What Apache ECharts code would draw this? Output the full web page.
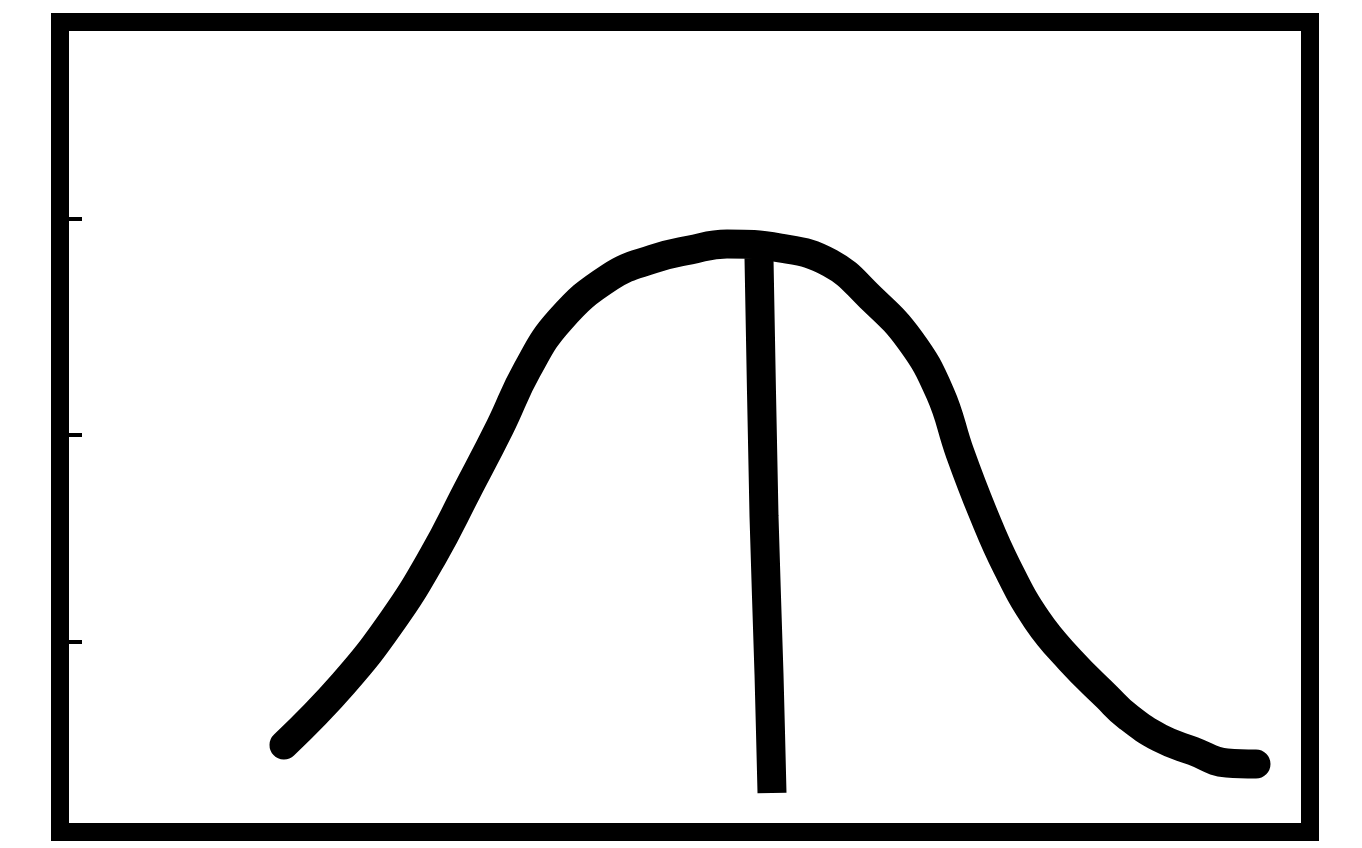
<!DOCTYPE html>
<html>
<head>
<meta charset="utf-8">
<script src="https://cdn.jsdelivr.net/npm/echarts@6/dist/echarts.min.js"></script>
<style>
    html, body {margin: 0; padding: 0; background: #fff;}
    #charts {width: 1362px; height: 848px;}
</style>
</head>
<body>
<div id="charts"></div>
<script>
// bell curve (x, y in box units)
const curveX = [22.4, 28.3, 33.3, 37.3, 40.7, 44.0, 46.7, 50.0, 55.0, 59.3, 63.0, 66.7, 72.0, 77.0, 81.0, 85.0, 88.0, 90.0, 92.3, 94.7, 97.7, 101.0, 104.7, 106.7, 110.0, 113.3, 116.7, 119.6];
const curveY = [8.7, 14.8, 21.2, 27.6, 34.1, 40.5, 46.2, 51.2, 55.5, 57.3, 58.2, 58.8, 58.4, 56.9, 53.5, 49.2, 43.9, 37.9, 31.9, 26.5, 21.2, 17.2, 13.5, 11.6, 9.4, 8.1, 6.9, 6.8];

// vertical line at the peak
const peakX = [69.9, 70.4, 70.9, 71.2];
const peakY = [57.4, 31.6, 15.8, 3.9];

// small marks on the left edge
const yTicks = [19.0, 39.7, 61.3];

const pairs = (xs, ys) => xs.map((x, i) => [x, ys[i]]);

const chart = echarts.init(document.getElementById('charts'));
chart.setOption({
    animation: false,
    backgroundColor: '#fff',
    grid: {
        left: 60,
        right: 52,
        top: 22,
        bottom: 16,
        show: true,
        borderColor: '#000',
        borderWidth: 18
    },
    xAxis: {
        type: 'value',
        min: 0,
        max: 125,
        show: false
    },
    yAxis: {
        type: 'value',
        min: 0,
        max: 81,
        axisLine: {show: false},
        axisLabel: {show: false},
        splitLine: {show: false},
        axisTick: {
            show: true,
            inside: true,
            length: 22,
            customValues: yTicks,
            lineStyle: {color: '#000', width: 4}
        }
    },
    series: [
        {
            type: 'line',
            data: pairs(curveX, curveY),
            smooth: 0.45,
            showSymbol: false,
            lineStyle: {color: '#000', width: 29, cap: 'round', join: 'round'}
        },
        {
            type: 'line',
            data: pairs(peakX, peakY),
            smooth: 0.2,
            showSymbol: false,
            lineStyle: {color: '#000', width: 29, cap: 'butt'}
        }
    ]
});
</script>
</body>
</html>
